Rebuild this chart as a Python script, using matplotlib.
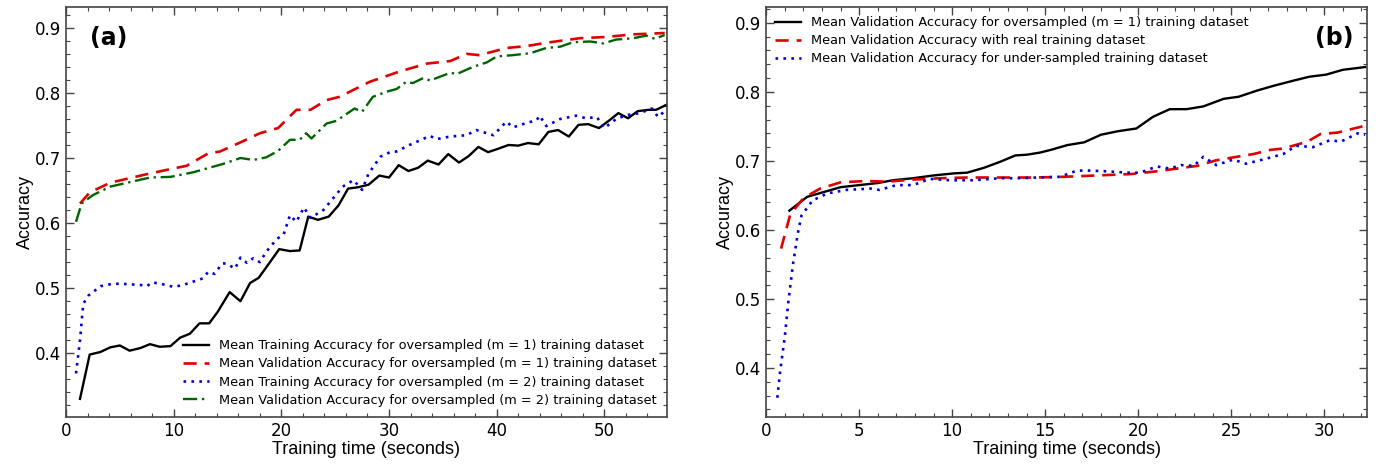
import matplotlib
matplotlib.use("Agg")
import matplotlib.pyplot as plt
from matplotlib.ticker import MultipleLocator

# ---- panel (a) data ----
t_train_m1 = [1.3, 2.2, 3.2, 4.1, 5.0, 5.9, 6.9, 7.8, 8.7, 9.7, 10.6, 11.5, 12.4, 13.3, 14.1, 15.2, 16.2,
              17.1, 17.9, 18.9, 19.8, 20.8, 21.7, 22.5, 23.4, 24.4, 25.3, 26.2, 27.1, 28.1, 29.1, 30.0,
              30.9, 31.8, 32.7, 33.6, 34.6, 35.5, 36.5, 37.4, 38.3, 39.2, 40.1, 41.1, 42.0, 42.9, 43.9,
              44.8, 45.7, 46.7, 47.6, 48.5, 49.5, 50.4, 51.3, 52.2, 53.1, 54.1, 54.8, 55.8]
acc_train_m1 = [0.330, 0.398, 0.402, 0.409, 0.412, 0.404, 0.408, 0.414, 0.410, 0.411, 0.424, 0.430, 0.446,
                0.446, 0.464, 0.494, 0.480, 0.508, 0.516, 0.539, 0.560, 0.557, 0.558, 0.610, 0.605, 0.610,
                0.627, 0.653, 0.655, 0.659, 0.673, 0.670, 0.689, 0.680, 0.685, 0.696, 0.690, 0.706, 0.693,
                0.703, 0.717, 0.709, 0.714, 0.720, 0.719, 0.723, 0.721, 0.740, 0.743, 0.733, 0.751, 0.752,
                0.746, 0.757, 0.769, 0.761, 0.772, 0.774, 0.774, 0.782]

t_val_m1 = [1.3, 2.2, 4.1, 7.2, 9.7, 11.2, 13.2, 14.3, 16.2, 18.0, 19.7, 21.4, 22.7, 24.2, 25.4, 28.2,
            31.0, 33.5, 35.7, 37.2, 38.4, 40.9, 42.8, 44.6, 45.9, 47.7, 50.2, 52.7, 55.6]
acc_val_m1 = [0.630, 0.647, 0.662, 0.674, 0.683, 0.688, 0.707, 0.710, 0.724, 0.738, 0.746, 0.774, 0.774,
              0.789, 0.794, 0.817, 0.833, 0.845, 0.849, 0.860, 0.858, 0.869, 0.872, 0.877, 0.880, 0.884,
              0.886, 0.890, 0.892]

t_train_m2 = [0.93, 1.3, 1.6, 2.1, 3.2, 4.1, 5.0, 5.9, 6.9, 7.5, 8.0, 9.0, 10.0, 10.9, 11.8, 12.7, 13.2,
              13.8, 14.5, 14.9, 15.7, 16.2, 16.8, 17.4, 18.0, 18.6, 19.6, 20.2, 20.8, 21.4, 22.1, 22.7,
              23.9, 25.7, 26.7, 27.5, 28.1, 29.2, 30.1, 30.7, 31.9, 33.8, 34.4, 35.7, 37.2, 38.1, 38.7,
              39.7, 40.9, 41.5, 42.8, 43.7, 44.0, 44.6, 45.9, 47.4, 48.3, 49.3, 50.0, 51.1, 52.1, 53.3,
              54.4, 55.0, 55.6]
acc_train_m2 = [0.369, 0.420, 0.476, 0.489, 0.503, 0.506, 0.507, 0.506, 0.505, 0.503, 0.509, 0.506, 0.502,
                0.505, 0.510, 0.515, 0.525, 0.522, 0.538, 0.538, 0.530, 0.547, 0.539, 0.546, 0.540, 0.556,
                0.576, 0.582, 0.612, 0.602, 0.624, 0.608, 0.620, 0.656, 0.666, 0.651, 0.676, 0.702, 0.709,
                0.710, 0.720, 0.734, 0.729, 0.733, 0.735, 0.743, 0.740, 0.735, 0.756, 0.747, 0.754, 0.758,
                0.765, 0.749, 0.760, 0.765, 0.761, 0.763, 0.746, 0.760, 0.766, 0.769, 0.776, 0.763, 0.772]

t_val_m2 = [0.93, 1.45, 2.5, 4.1, 7.8, 9.7, 11.8, 14.6, 16.2, 17.4, 18.6, 19.7, 20.8, 21.7, 22.3, 22.8,
            24.2, 25.1, 26.8, 27.5, 28.5, 29.8, 30.7, 31.6, 32.2, 33.2, 33.8, 35.7, 36.3, 37.8, 39.1,
            40.0, 41.5, 43.1, 44.6, 45.9, 47.1, 48.7, 49.9, 51.1, 52.7, 53.9, 54.7, 55.6]
acc_val_m2 = [0.602, 0.630, 0.643, 0.656, 0.670, 0.671, 0.678, 0.691, 0.700, 0.697, 0.701, 0.711, 0.728,
              0.728, 0.738, 0.730, 0.753, 0.757, 0.776, 0.771, 0.794, 0.802, 0.806, 0.817, 0.815, 0.823,
              0.819, 0.831, 0.829, 0.840, 0.847, 0.856, 0.858, 0.861, 0.869, 0.871, 0.878, 0.879, 0.876,
              0.882, 0.884, 0.888, 0.883, 0.889]

labels_a = ["Mean Training Accuracy for oversampled (m = 1) training dataset",
            "Mean Validation Accuracy for oversampled (m = 1) training dataset",
            "Mean Training Accuracy for oversampled (m = 2) training dataset",
            "Mean Validation Accuracy for oversampled (m = 2) training dataset"]

# ---- panel (b) data ----
t_over = [1.25, 2.2, 3.1, 4.0, 5.0, 6.0, 6.8, 7.9, 9.0, 10.1, 10.8, 11.7, 12.6, 13.4, 14.0, 14.7, 15.3,
          16.2, 17.1, 18.0, 18.9, 19.9, 20.8, 21.7, 22.6, 23.5, 24.6, 25.4, 26.4, 27.3, 28.3, 29.2,
          30.1, 31.0, 32.2]
acc_over = [0.628, 0.648, 0.655, 0.662, 0.665, 0.668, 0.672, 0.675, 0.679, 0.682, 0.683, 0.690, 0.699,
            0.708, 0.709, 0.712, 0.716, 0.723, 0.727, 0.738, 0.743, 0.747, 0.764, 0.775, 0.775, 0.779,
            0.790, 0.793, 0.802, 0.809, 0.816, 0.822, 0.825, 0.832, 0.836]

t_real = [0.8, 1.3, 2.0, 2.9, 4.0, 5.4, 6.5, 7.9, 9.4, 10.8, 12.6, 14.4, 16.0, 17.8, 19.6, 21.0, 22.1,
          23.2, 24.2, 25.3, 26.2, 27.1, 27.8, 29.1, 29.8, 30.7, 31.6, 32.2]
acc_real = [0.573, 0.623, 0.646, 0.660, 0.669, 0.671, 0.670, 0.673, 0.675, 0.676, 0.676, 0.676, 0.677,
            0.679, 0.681, 0.685, 0.689, 0.693, 0.701, 0.706, 0.710, 0.716, 0.718, 0.728, 0.739, 0.741,
            0.747, 0.751]

t_under = [0.6, 0.75, 1.0, 1.2, 1.45, 1.7, 1.9, 2.5, 3.3, 4.3, 5.6, 6.1, 7.0, 7.9, 8.8, 9.9, 11.1, 12.6,
           13.7, 14.6, 15.8, 16.7, 17.4, 18.3, 19.4, 20.1, 21.0, 21.7, 22.3, 23.0, 23.5, 24.2, 25.1,
           25.8, 26.7, 27.8, 28.5, 29.4, 30.3, 30.9, 31.8, 32.2]
acc_under = [0.357, 0.395, 0.445, 0.498, 0.552, 0.595, 0.621, 0.643, 0.653, 0.658, 0.660, 0.658, 0.665,
             0.665, 0.674, 0.672, 0.672, 0.675, 0.675, 0.676, 0.677, 0.686, 0.686, 0.685, 0.683, 0.683,
             0.692, 0.689, 0.694, 0.693, 0.706, 0.694, 0.702, 0.696, 0.702, 0.710, 0.722, 0.720, 0.730,
             0.728, 0.740, 0.738]

labels_b = ["Mean Validation Accuracy for oversampled (m = 1) training dataset",
            "Mean Validation Accuracy with real training dataset",
            "Mean Validation Accuracy for under-sampled training dataset"]

spine_col = "#444444"
lab_font = "Liberation Sans"


def style_axes(ax, xmajor, xminor):
    ax.xaxis.set_major_locator(MultipleLocator(xmajor))
    ax.xaxis.set_minor_locator(MultipleLocator(xminor))
    ax.yaxis.set_major_locator(MultipleLocator(0.1))
    ax.yaxis.set_minor_locator(MultipleLocator(0.02))
    ax.tick_params(which="both", direction="in", top=True, right=True, colors=spine_col,
                   labelcolor="black", labelsize=12)
    ax.tick_params(which="major", length=6, width=1)
    ax.tick_params(which="minor", length=3, width=0.8)
    for s in ax.spines.values():
        s.set_color(spine_col)
        s.set_linewidth(1.2)
    ax.set_xlabel("Training time (seconds)", fontsize=13, family=lab_font, labelpad=1)
    ax.set_ylabel("Accuracy", fontsize=13, family=lab_font, labelpad=1)


fig = plt.figure(figsize=(13.78, 4.66), dpi=100)
ax1 = fig.add_axes([0.0479, 0.105, 0.436, 0.88])
ax2 = fig.add_axes([0.556, 0.105, 0.436, 0.88])

ax1.plot(t_train_m1, acc_train_m1, color="black", lw=1.7, label=labels_a[0])
ax1.plot(t_val_m1, acc_val_m1, color="#e00000", lw=1.9, ls=(0, (5, 3)), label=labels_a[1])
ax1.plot(t_train_m2, acc_train_m2, color="#0000dd", lw=1.9, ls=(0, (1, 2)), label=labels_a[2])
ax1.plot(t_val_m2, acc_val_m2, color="#006400", lw=1.7, ls=(0, (6, 2, 1, 2)), label=labels_a[3])
ax1.set_xlim(0, 55.8)
ax1.set_ylim(0.302, 0.932)
style_axes(ax1, 10, 2)
ax1.legend(loc="lower right", frameon=False, fontsize=9.3, handlelength=2.0, labelspacing=0.4,
           borderaxespad=0.4)
ax1.text(0.04, 0.925, "(a)", transform=ax1.transAxes, fontsize=17, fontweight="bold", va="center")

ax2.plot(t_over, acc_over, color="black", lw=1.7, label=labels_b[0])
ax2.plot(t_real, acc_real, color="#e00000", lw=1.9, ls=(0, (5, 3)), label=labels_b[1])
ax2.plot(t_under, acc_under, color="#0000dd", lw=1.9, ls=(0, (1, 2)), label=labels_b[2])
ax2.set_xlim(0, 32.3)
ax2.set_ylim(0.329, 0.923)
style_axes(ax2, 5, 1)
ax2.legend(loc="upper left", frameon=False, fontsize=9.3, handlelength=2.0, labelspacing=0.4,
           borderaxespad=0.3)
ax2.text(0.913, 0.925, "(b)", transform=ax2.transAxes, fontsize=17, fontweight="bold", va="center")

fig.savefig("out.png", dpi=100)
